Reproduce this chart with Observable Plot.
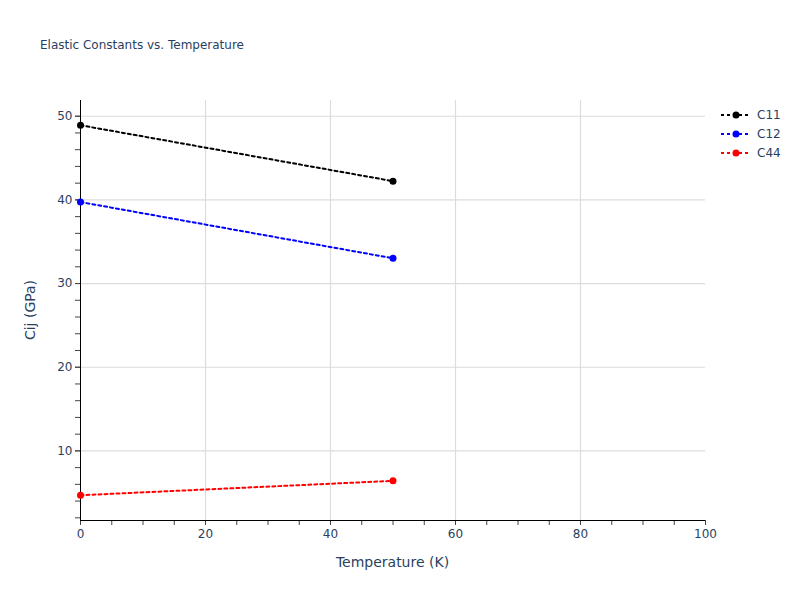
<!DOCTYPE html>
<html>
<head>
<meta charset="utf-8">
<script src="https://cdn.jsdelivr.net/npm/d3@7"></script>
<script src="https://cdn.jsdelivr.net/npm/@observablehq/plot@0.6"></script>
<style>
  body { margin: 0; background: #fff; font-family: "DejaVu Sans", sans-serif; }
  #wrap { position: relative; width: 800px; height: 600px; }
  .title { position: absolute; left: 40px; top: 38px; font-size: 12px; color: #2a3f5f; }
  .xlab { position: absolute; left: 80px; width: 625px; top: 554px; text-align: center; font-size: 14px; color: #2a3f5f; }
  .ylab { position: absolute; left: 30px; top: 310px; font-size: 14px; color: #2a3f5f; transform: translate(-50%, -50%) rotate(-90deg); white-space: nowrap; }
  .legend { position: absolute; left: 720px; top: 105px; font-size: 12px; color: #2a3f5f; }
  .legend div { height: 19px; display: flex; align-items: center; }
  .legend svg { margin-right: 5px; }
</style>
</head>
<body>
<div id="wrap">
  <div class="title">Elastic Constants vs. Temperature</div>
  <div class="xlab">Temperature (K)</div>
  <div class="ylab">Cij (GPa)</div>
  <div class="legend" id="legend"></div>
</div>
<script>
const temperature = [0, 50];
const seriesNames = ["C11", "C12", "C44"];
const seriesColors = ["#000000", "#0000ff", "#ff0000"];
const c11 = [48.92, 42.24];
const c12 = [39.74, 33.02];
const c44 = [4.70, 6.42];
const xTicks = [0, 20, 40, 60, 80, 100];
const yTicks = [10, 20, 30, 40, 50];

const seriesValues = [c11, c12, c44];
const data = [];
seriesNames.forEach((name, i) => {
  temperature.forEach((t, j) => data.push({series: name, t, v: seriesValues[i][j]}));
});

const yDomain = [1.68, 51.88];
const chart = Plot.plot({
  width: 800,
  height: 600,
  marginLeft: 80,
  marginRight: 95,
  marginTop: 100,
  marginBottom: 80,
  style: { fontFamily: "'DejaVu Sans', sans-serif", fontSize: "12px", color: "#2a3f5f", background: "transparent" },
  x: { domain: [0, 100] },
  y: { domain: yDomain },
  color: { domain: seriesNames, range: seriesColors },
  marks: [
    Plot.gridX(xTicks.filter(d => d > 0 && d < 100), { stroke: "#dcdcdc", strokeOpacity: 1, strokeWidth: 1.2 }),
    Plot.gridY(yTicks, { stroke: "#dcdcdc", strokeOpacity: 1, strokeWidth: 1.2 }),
    Plot.axisX(d3.range(0, 101, 5), { tickSize: 5, tickFormat: () => "", stroke: "#444", label: null }),
    Plot.axisX(xTicks, { tickSize: 5, tickPadding: 4, stroke: "#444", fill: "#2a3f5f", label: null }),
    Plot.axisY(d3.range(2, 52, 2), { tickSize: 5, tickFormat: () => "", stroke: "#444", label: null }),
    Plot.axisY(yTicks, { tickSize: 5, tickPadding: 3, stroke: "#444", fill: "#2a3f5f", label: null }),
    Plot.ruleX([0], { stroke: "#000", strokeWidth: 1 }),
    Plot.ruleY([yDomain[0]], { stroke: "#000", strokeWidth: 1 }),
    Plot.line(data, { x: "t", y: "v", z: "series", stroke: "series", strokeWidth: 2, strokeDasharray: "3,3" }),
    Plot.dot(data, { x: "t", y: "v", fill: "series", r: 3.5, stroke: null })
  ]
});
document.getElementById("wrap").prepend(chart);
chart.style.position = "absolute";
chart.style.left = "0";
chart.style.top = "0";

const legend = document.getElementById("legend");
seriesNames.forEach((name, i) => {
  const row = document.createElement("div");
  row.innerHTML = `<svg width="32" height="10"><line x1="1" y1="5" x2="31" y2="5" stroke="${seriesColors[i]}" stroke-width="2" stroke-dasharray="3,3"/><circle cx="16" cy="5" r="3.5" fill="${seriesColors[i]}"/></svg><span>${name}</span>`;
  legend.appendChild(row);
});
</script>
</body>
</html>
